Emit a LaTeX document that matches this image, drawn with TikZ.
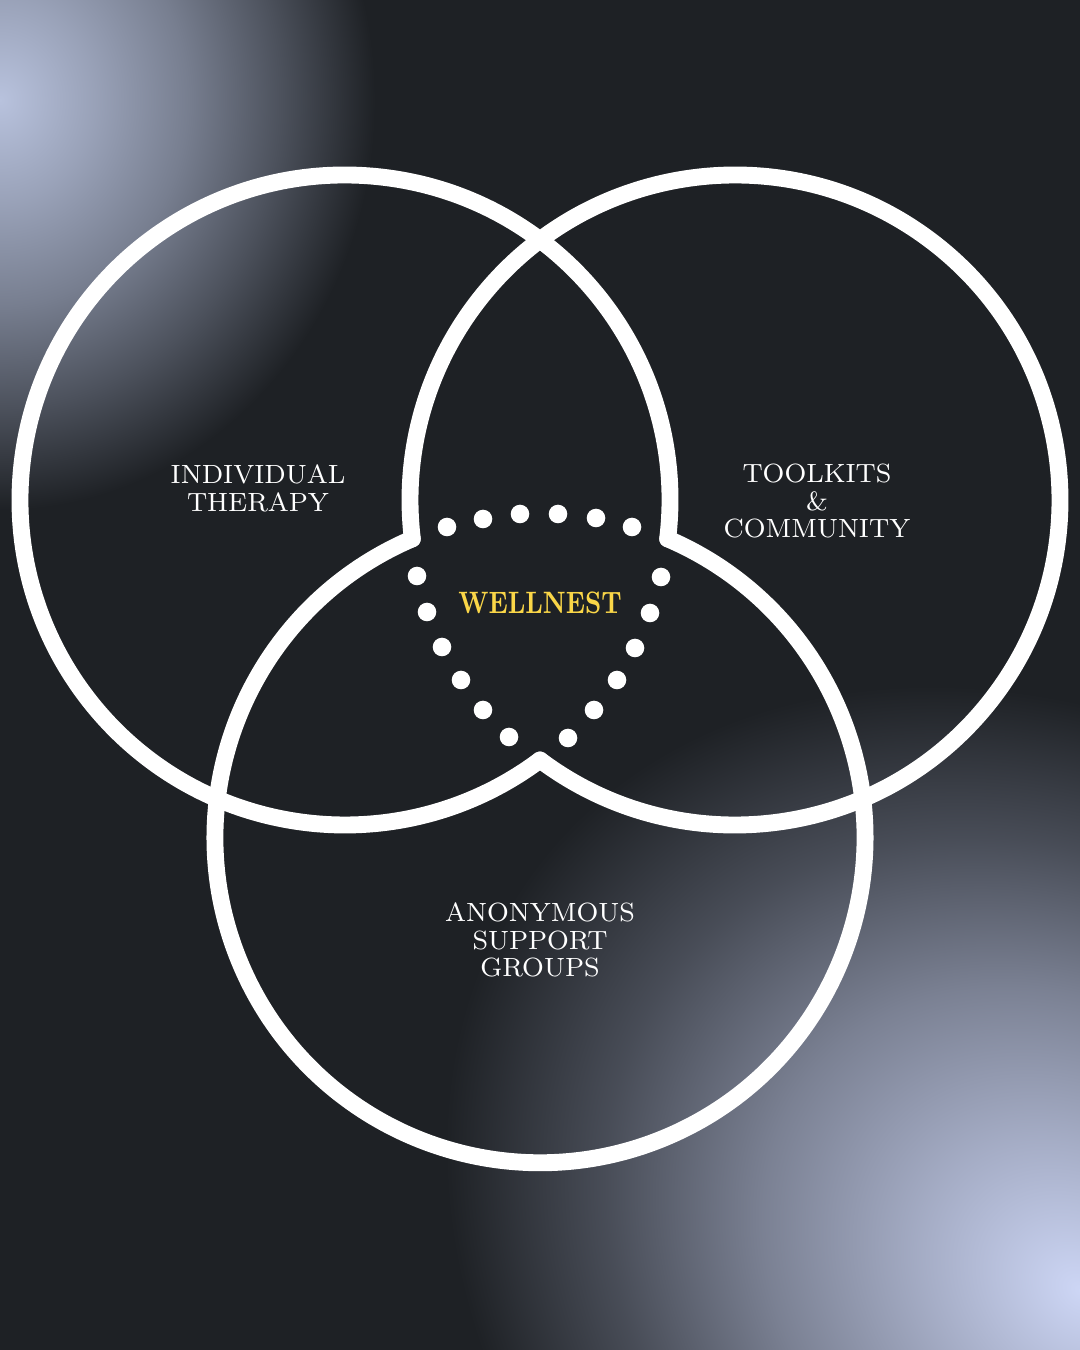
\documentclass[tikz,border=0pt]{standalone}
\usepackage{tikz}
\definecolor{bgdark}{RGB}{30,33,37}
\definecolor{glowtl}{RGB}{184,194,221}
\definecolor{glowbr}{RGB}{205,214,245}
\definecolor{wellyellow}{RGB}{250,214,72}
\pgfdeclareradialshading{glowTL}{\pgfpoint{0bp}{0bp}}{color(0bp)=(glowtl); color(6.25bp)=(glowtl!80!bgdark); color(12.5bp)=(glowtl!58!bgdark); color(18.75bp)=(glowtl!30!bgdark); color(25bp)=(bgdark); color(50bp)=(bgdark)}
\pgfdeclareradialshading{glowBR}{\pgfpoint{0bp}{0bp}}{color(0bp)=(glowbr); color(6.25bp)=(glowbr!77!bgdark); color(12.5bp)=(glowbr!53!bgdark); color(18.75bp)=(glowbr!24!bgdark); color(25bp)=(bgdark); color(50bp)=(bgdark)}
\tikzset{
  ring/.style={draw=white, line width=4.8pt, line cap=round},
  lbl/.style={text=white, align=center, inner sep=0pt, font=\fontsize{7.5}{7.9}\selectfont},
  core/.style={text=wellyellow, inner sep=0pt, font=\fontsize{8.8}{9}\selectfont\bfseries},
  dot/.style={fill=white},
}
\begin{document}
\begin{tikzpicture}[x=0.01cm, y=0.01cm]
  \useasboundingbox (0,0) rectangle (1080,1350);

  % Background
  \fill[bgdark] (0,0) rectangle (1080,1350);
  \begin{scope}
    \clip (0,0) rectangle (1080,1350);
    \shade[shading=glowTL] (0,1250) ellipse [x radius=375, y radius=410];
    \begin{scope}[transform canvas={shift={(1080,60)}, rotate=140.9}]
      \shade[shading=glowBR] (0,0) ellipse [x radius=690, y radius=540];
    \end{scope}
  \end{scope}

  % Circles
  \coordinate (cL) at (345,850);
  \coordinate (cR) at (735,850);
  \coordinate (cB) at (540,512.3);
  \draw[ring] ([shift={(-6.87:325)}]cL) arc[start angle=-6.87, end angle=306.87, radius=325];
  \draw[ring] ([shift={(233.13:325)}]cR) arc[start angle=233.13, end angle=546.87, radius=325];
  \draw[ring] ([shift={(113.13:325)}]cB) arc[start angle=113.13, end angle=426.87, radius=325];

  % Labels
  \node[lbl] (therapy) at (258,862) {INDIVIDUAL\\THERAPY};
  \node[lbl] (toolkits) at (817,849) {TOOLKITS\\\&\\COMMUNITY};
  \node[lbl] (groups) at (540,410) {ANONYMOUS\\SUPPORT\\GROUPS};

  % Dotted core
  \foreach \px/\py in {447/823, 483/831, 520/836, 558/836, 596/832, 632/823,
                       417/774, 427/738, 442/703, 461/670, 483/640, 509/613,
                       661/773, 650/737, 635/702, 617/670, 594/640, 568/612}
    \fill[dot] (\px,\py) circle [radius=9.3];
  \node[core] (wellnest) at (540,747) {\scalebox{0.8}[1]{WELLNEST}};

\end{tikzpicture}
\end{document}
